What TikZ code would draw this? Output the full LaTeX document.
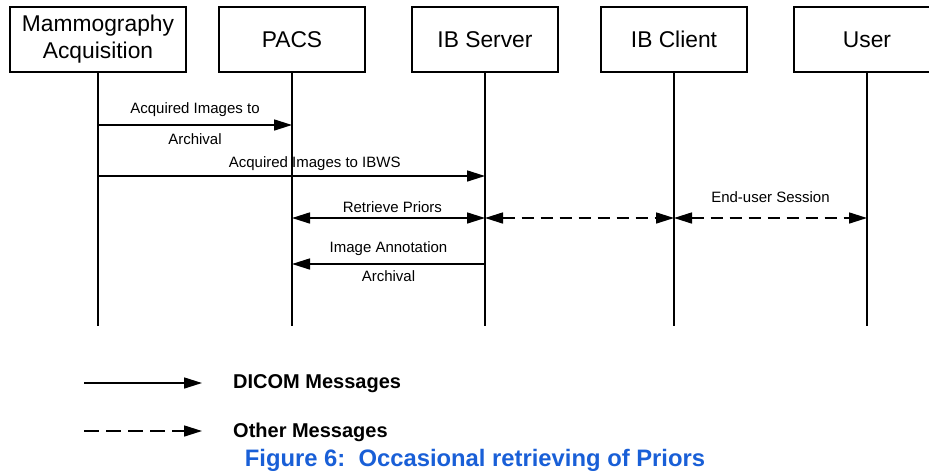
\documentclass[tikz,border=0pt]{standalone}
\usepackage{fontspec}
\setmainfont{Liberation Sans}
\usetikzlibrary{arrows.meta}
\definecolor{captionblue}{RGB}{25,95,215}

\tikzset{
  actor/.style={draw, line width=1.6pt, minimum width=146pt, minimum height=65pt,
    inner sep=0pt, align=center, font=\fontsize{22.8}{27}\selectfont},
  lifeline/.style={line width=1.6pt},
  msg/.style={line width=1.6pt},
  other/.style={msg, dash pattern=on 12pt off 7pt},
  msglabel/.style={inner sep=0pt, text height=11pt, text depth=3pt,
    font=\fontsize{15}{18}\selectfont},
  legendtext/.style={inner sep=0pt, anchor=base west,
    font=\bfseries\fontsize{20}{24}\selectfont},
}

\begin{document}
\begin{tikzpicture}[x=1pt, y=-1pt, >={Triangle[length=18pt,width=11pt]}]
\useasboundingbox (0,0) rectangle (929,472);

% participants
\node[actor, minimum width=176pt] (mammo) at (98,39.5) {Mammography\\Acquisition};
\node[actor] (pacs) at (292,39.5) {PACS};
\node[actor] (server) at (485,39.5) {IB Server};
\node[actor] (client) at (674,39.5) {IB Client};
\node[actor] (user) at (867,39.5) {User};

% lifelines
\foreach \p in {mammo,pacs,server,client,user}
  \draw[lifeline] (\p.south) -- ++(0,253) coordinate (\p-end);

% messages
\draw[msg,->] (mammo |- 0,125) -- (pacs |- 0,125)
  node[msglabel, midway, above=8pt] (acqtop) {Acquired Images to}
  node[msglabel, midway, below=8pt] (acqbot) {Archival};
\draw[msg,->] (mammo |- 0,176) -- (server |- 0,176)
  node[msglabel, pos=0.56, above=5pt] (acqibws) {Acquired Images to IBWS};
\draw[msg,<->] (pacs |- 0,218) -- (server |- 0,218)
  node[msglabel, pos=0.52, above=2pt] (priors) {Retrieve Priors};
\draw[other,<->] (server |- 0,218) -- (client |- 0,218);
\draw[other,<->] (client |- 0,218) -- (user |- 0,218)
  node[msglabel, midway, above=12pt] (session) {End-user Session};
\draw[msg,->] (server |- 0,264) -- (pacs |- 0,264)
  node[msglabel, midway, above=8pt] (annotop) {Image Annotation}
  node[msglabel, midway, below=6pt] (annobot) {Archival};

% legend
\coordinate (dicomstart) at (84,383);
\coordinate (dicomend) at (202,383);
\coordinate (otherstart) at (84,431);
\coordinate (otherend) at (202,431);
\draw[msg,->] (dicomstart) -- (dicomend);
\draw[msg,->,dash pattern=on 15pt off 7pt] (otherstart) -- (otherend);
\node[legendtext] (dicomtxt) at (233,388) {DICOM Messages};
\node[legendtext] (othertxt) at (233,437) {Other Messages};

% caption
\node[inner sep=0pt, anchor=base, text=captionblue,
  font=\bfseries\fontsize{23.8}{28}\selectfont] (caption) at (475,466)
  {Figure 6:\ \ Occasional retrieving of Priors};
\end{tikzpicture}
\end{document}
